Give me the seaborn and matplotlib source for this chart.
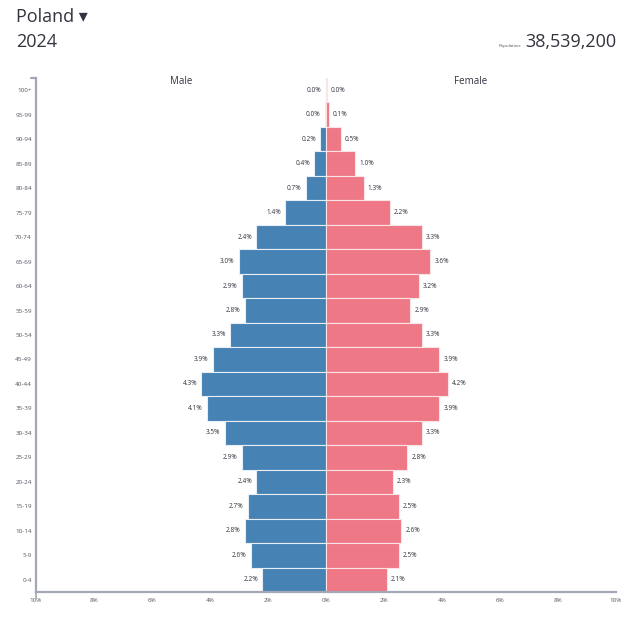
import matplotlib
matplotlib.use("Agg")
import matplotlib.pyplot as plt
import seaborn as sns
import pandas as pd

# age groups, top to bottom
age_groups = ["100+", "95-99", "90-94", "85-89", "80-84", "75-79", "70-74",
              "65-69", "60-64", "55-59", "50-54", "45-49", "40-44", "35-39",
              "30-34", "25-29", "20-24", "15-19", "10-14", "5-9", "0-4"]
male = [0.01, 0.04, 0.2, 0.4, 0.7, 1.4, 2.4, 3.0, 2.9, 2.8, 3.3, 3.9, 4.3, 4.1,
        3.5, 2.9, 2.4, 2.7, 2.8, 2.6, 2.2]
female = [0.02, 0.1, 0.5, 1.0, 1.3, 2.2, 3.3, 3.6, 3.2, 2.9, 3.3, 3.9, 4.2, 3.9,
          3.3, 2.8, 2.3, 2.5, 2.6, 2.5, 2.1]
x_ticks = [-10, -8, -6, -4, -2, 0, 2, 4, 6, 8, 10]

country = "Poland"
year = "2024"
population = "38,539,200"

male_color = "#4682b4"
female_color = "#ee7885"
axis_color = "#a3a7b7"
text_color = "#333340"

df = pd.DataFrame({"age": age_groups, "male": [-v for v in male], "female": female})

sns.set_style("white")
plt.rcParams["font.family"] = ["Open Sans", "DejaVu Sans"]

fig = plt.figure(figsize=(6.33, 6.17), dpi=100)
ax = fig.add_axes([36 / 633, 1 - 592 / 617, 580 / 633, 514 / 617])

sns.barplot(data=df, x="male", y="age", order=age_groups, color=male_color,
            width=1.0, edgecolor="#e8eef5", linewidth=0.8, saturation=1, ax=ax)
sns.barplot(data=df, x="female", y="age", order=age_groups, color=female_color,
            width=1.0, edgecolor="#fbe3e6", linewidth=0.8, saturation=1, ax=ax)

ax.set_xlim(-10, 10)
ax.set_ylim(len(age_groups) - 0.5, -0.5)

# value labels
for i, (m, f) in enumerate(zip(male, female)):
    ax.annotate(f"{m:.1f}%", (-m, i), xytext=(-3, 0), textcoords="offset points",
                ha="right", va="center", fontsize=4.7, color=text_color)
    ax.annotate(f"{f:.1f}%", (f, i), xytext=(3, 0), textcoords="offset points",
                ha="left", va="center", fontsize=4.7, color=text_color)

ax.set_xticks(x_ticks)
ax.set_xticklabels([f"{abs(t)}%" for t in x_ticks])
ax.tick_params(axis="x", length=3, width=1, color=axis_color, labelsize=4.5,
               labelcolor="#555560", pad=1.5)
ax.tick_params(axis="y", length=2, width=1, color=axis_color, labelsize=4.5,
               labelcolor="#555560", pad=1)
ax.set_xlabel("")
ax.set_ylabel("")

for side in ["top", "right"]:
    ax.spines[side].set_visible(False)
for side in ["left", "bottom"]:
    ax.spines[side].set_color(axis_color)
    ax.spines[side].set_linewidth(1.6)

# outer ticks at the ends of the left axis
ax.plot([-0.008, 0], [1, 1], transform=ax.transAxes, color=axis_color,
        lw=1.6, clip_on=False)
ax.plot([0, 0], [0, -0.012], transform=ax.transAxes, color=axis_color,
        lw=1.2, clip_on=False)

ax.text(0.25, 1 - 4 / 514, "Male", transform=ax.transAxes, ha="center",
        va="center", fontsize=7, color=text_color)
ax.text(0.75, 1 - 4 / 514, "Female", transform=ax.transAxes, ha="center",
        va="center", fontsize=7, color=text_color)

# header
fig.text(16 / 633, 1 - 17 / 617, country + " \u25BE", ha="left", va="center",
         fontsize=13, color=text_color, family=["Open Sans", "DejaVu Sans"])
fig.text(16 / 633, 1 - 42 / 617, year, ha="left", va="center",
         fontsize=13, color=text_color)
fig.text(616 / 633, 1 - 42 / 617, population, ha="right", va="center",
         fontsize=13, color=text_color)
fig.text(522 / 633, 1 - 46 / 617, "Population:", ha="right", va="center",
         fontsize=3.2, color="#555560")

fig.savefig("out.png", dpi=100, facecolor="white")
